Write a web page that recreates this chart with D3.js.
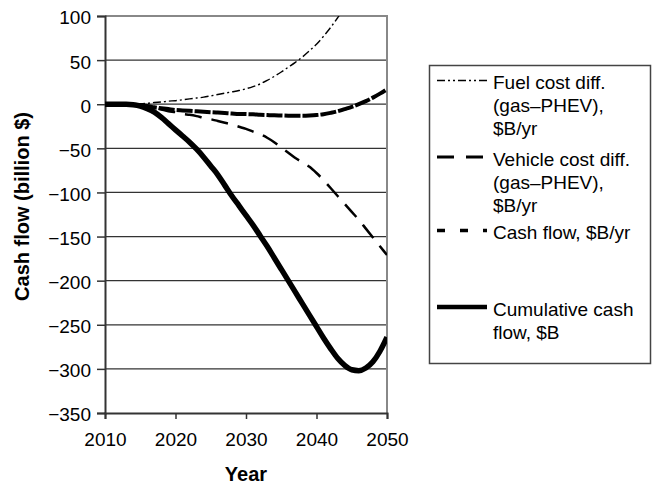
<!DOCTYPE html>
<html>
<head>
<meta charset="utf-8">
<script src="https://cdn.jsdelivr.net/npm/d3@7"></script>
<style>
  html, body { margin: 0; padding: 0; background: #fff; }
  svg { display: block; font-family: "Liberation Sans", Arial, Helvetica, sans-serif; }
</style>
</head>
<body>
<svg id="chart" width="653" height="485"></svg>
<script>
// Annual values, 2010–2050 (billion $)
const years = d3.range(2010, 2051);

const fuelCostDiff = [
  0, 0, 0, 0, 0, 0.5, 1, 2, 2.5, 3.5,
  4, 5, 6, 7, 8, 9.5, 11, 12.5, 14, 15.5,
  17.5, 20, 23, 27, 31.5, 36.5, 42, 47.5, 53.5, 60.5,
  68, 77, 87, 98, 110, null, null, null, null, null,
  null
];

const vehicleCostDiff = [
  0, 0, 0, 0, 0, -1, -2, -4, -6, -8,
  -9, -11, -12, -13.5, -15.5, -17, -19, -21, -23, -25.5,
  -28, -31, -34, -38, -43, -49, -55, -61, -66, -71,
  -78, -86, -95, -104, -113, -122, -131, -141, -151, -161,
  -171
];

const cashFlow = [
  0, 0, 0, 0, -0.5, -1, -2, -3.5, -4.5, -5.5,
  -6.5, -7, -7.5, -8, -8.5, -9, -9.5, -10, -10.5, -11,
  -11.2, -11.5, -12, -12.3, -12.6, -12.8, -13, -13, -13, -12.8,
  -12.3, -11.3, -9.8, -8, -5.5, -3, 0, 3.5, 7.5, 12,
  17
];

const cumulativeCashFlow = [
  0, 0, 0, 0, -0.5, -2, -5, -9, -15, -22,
  -29, -36, -43, -51, -60, -70, -80, -92, -104, -115,
  -126, -137, -149, -161, -174, -187, -200, -213, -226, -239,
  -252, -265, -277, -288, -296, -301, -302, -299, -292, -280,
  -264
];

const xTicks = [2010, 2020, 2030, 2040, 2050];
const yTicks = [100, 50, 0, -50, -100, -150, -200, -250, -300, -350];

const seriesLabels = [
  ["Fuel cost diff.", "(gas–PHEV),", "$B/yr"],
  ["Vehicle cost diff.", "(gas–PHEV),", "$B/yr"],
  ["Cash flow, $B/yr"],
  ["Cumulative cash", "flow, $B"]
];

// Plot frame
const plot = { left: 105, right: 387, top: 16, bottom: 413 };
const svg = d3.select("#chart");

const x = d3.scaleLinear().domain([2010, 2050]).range([plot.left, plot.right]);
const y = d3.scaleLinear().domain([-350, 100]).range([plot.bottom, plot.top]);

// Clip for lines that run past the top of the plot
svg.append("clipPath").attr("id", "plot-clip")
  .append("rect")
  .attr("x", plot.left).attr("y", plot.top)
  .attr("width", plot.right - plot.left).attr("height", plot.bottom - plot.top);

// Horizontal gridlines
svg.append("g")
  .selectAll("line")
  .data(yTicks.filter(t => t !== 100 && t !== -350))
  .join("line")
  .attr("x1", plot.left).attr("x2", plot.right)
  .attr("y1", d => y(d)).attr("y2", d => y(d))
  .attr("stroke", "#333").attr("stroke-width", 1.2);

// Top and right frame edges
svg.append("path")
  .attr("d", `M${plot.left},${plot.top}H${plot.right}V${plot.bottom}`)
  .attr("fill", "none").attr("stroke", "#888").attr("stroke-width", 2);

// Y axis
const yAxis = svg.append("g")
  .attr("transform", `translate(${plot.left},0)`)
  .call(d3.axisLeft(y).tickValues(yTicks).tickSize(8).tickPadding(6));
yAxis.select(".domain").attr("stroke", "#333").attr("stroke-width", 2);
yAxis.selectAll(".tick line").attr("stroke", "#333").attr("stroke-width", 1.5);
yAxis.selectAll(".tick text")
  .attr("font-size", 19).attr("fill", "#000").attr("font-family", "Liberation Sans, Arial, sans-serif")
  .attr("dy", "0.42em");

// X axis
const xAxis = svg.append("g")
  .attr("transform", `translate(0,${plot.bottom})`)
  .call(d3.axisBottom(x).tickValues(xTicks).tickFormat(d3.format("d")).tickSize(6).tickPadding(14));
xAxis.select(".domain").attr("stroke", "#333").attr("stroke-width", 2);
xAxis.selectAll(".tick line").attr("stroke", "#333").attr("stroke-width", 1.5);
xAxis.selectAll(".tick text")
  .attr("font-size", 19).attr("fill", "#000").attr("font-family", "Liberation Sans, Arial, sans-serif");

// Axis titles
svg.append("text")
  .attr("x", (plot.left + plot.right) / 2).attr("y", 481)
  .attr("text-anchor", "middle")
  .attr("font-size", 20).attr("font-weight", "bold")
  .text("Year");

svg.append("text")
  .attr("transform", `translate(29,${(plot.top + plot.bottom) / 2 - 8}) rotate(-90)`)
  .attr("text-anchor", "middle")
  .attr("font-size", 20).attr("font-weight", "bold")
  .text("Cash flow (billion $)");

// Series styles
const series = [
  { values: fuelCostDiff, width: 1.4, dash: "8,3,2,3", legendDash: "8,3,2,3,2,3" },
  { values: vehicleCostDiff, width: 2.5, dash: "17,10", legendDash: "17,12" },
  { values: cashFlow, width: 4, dash: "16,2", legendDash: "8,15" },
  { values: cumulativeCashFlow, width: 5.5, dash: null, legendDash: null }
];

const line = d3.line()
  .defined(d => d[1] !== null)
  .x(d => x(d[0]))
  .y(d => y(d[1]))
  .curve(d3.curveMonotoneX);

const lines = svg.append("g").attr("clip-path", "url(#plot-clip)");
series.forEach(s => {
  lines.append("path")
    .datum(years.map((yr, i) => [yr, s.values[i]]))
    .attr("d", line)
    .attr("fill", "none")
    .attr("stroke", "#000")
    .attr("stroke-width", s.width)
    .attr("stroke-dasharray", s.dash)
    .attr("stroke-linejoin", "round");
});

// Legend
const legend = svg.append("g");
legend.append("rect")
  .attr("x", 429.5).attr("y", 65.5).attr("width", 221).attr("height", 298)
  .attr("fill", "#fff").attr("stroke", "#444").attr("stroke-width", 1.5);

const firstBaselines = [89, 165.5, 239, 315.5];
const lineHeight = 23;
series.forEach((s, i) => {
  const by = firstBaselines[i];
  legend.append("line")
    .attr("x1", 437).attr("x2", 487)
    .attr("y1", by - 8.5).attr("y2", by - 8.5)
    .attr("stroke", "#000")
    .attr("stroke-width", i === 3 ? 4.5 : (i === 2 ? 3.5 : (i === 1 ? 3 : 1.5)))
    .attr("stroke-dasharray", s.legendDash);
  const t = legend.append("text").attr("font-size", 19).attr("fill", "#000");
  seriesLabels[i].forEach((txt, j) => {
    t.append("tspan").attr("x", 493).attr("y", by + j * lineHeight).text(txt);
  });
});
</script>
</body>
</html>
